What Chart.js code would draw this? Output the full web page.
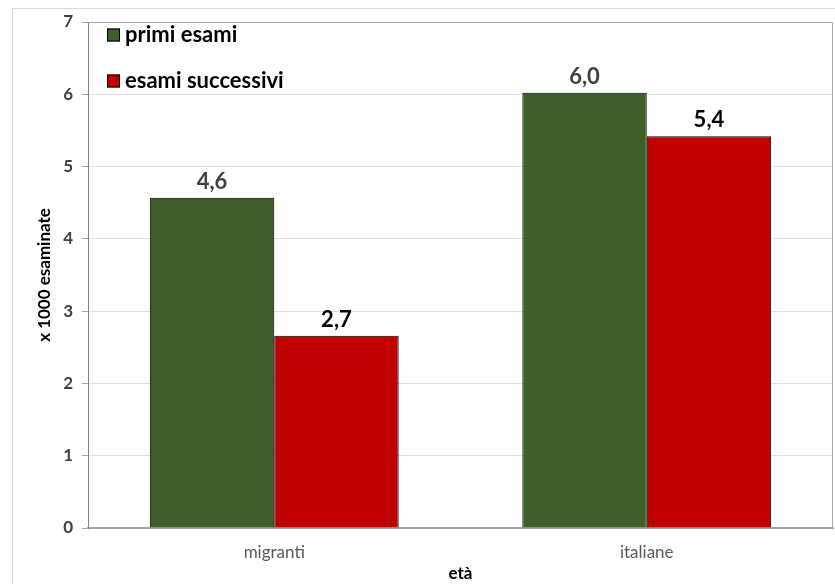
<!DOCTYPE html>
<html>
<head>
<meta charset="utf-8">
<script src="https://cdn.jsdelivr.net/npm/chart.js@4/dist/chart.umd.min.js"></script>
<style>
    html, body { margin: 0; padding: 0; background: #fff; }
    #wrap { position: relative; width: 835px; height: 584px; }
    #frame { position: absolute; left: 12px; top: 8px; width: 840px; height: 600px; border: 1px solid #d9d9d9; box-sizing: border-box; }
    canvas { position: absolute; left: 0; top: 0; }
</style>
</head>
<body>
<div id="wrap">
    <div id="frame"></div>
    <canvas id="chart" width="835" height="584"></canvas>
</div>
<script>
// data
const categories = ['migranti', 'italiane'];
const seriesNames = ['primi esami', 'esami successivi'];
const primiEsami = [4.57, 6.02];
const esamiSuccessivi = [2.66, 5.42];
const yTicks = [0, 1, 2, 3, 4, 5, 6, 7];

const FONT = 'Lato, "Open Sans", sans-serif';
const colors = ['#3f5f2a', '#c00000'];
const labelColors = ['#404040', '#000000'];

// value labels above each bar
const valueLabels = {
    id: 'valueLabels',
    afterDatasetsDraw(chart) {
        const ctx = chart.ctx;
        ctx.save();
        ctx.font = 'bold 22px ' + FONT;
        ctx.textAlign = 'center';
        ctx.textBaseline = 'bottom';
        chart.data.datasets.forEach((ds, i) => {
            const meta = chart.getDatasetMeta(i);
            ctx.fillStyle = labelColors[i];
            meta.data.forEach((bar, j) => {
                const txt = ds.data[j].toFixed(1).replace('.', ',');
                ctx.fillText(txt, bar.x, bar.y - 5);
            });
        });
        ctx.restore();
    }
};

// legend drawn inside the plot, top left
const insideLegend = {
    id: 'insideLegend',
    afterDraw(chart) {
        const ctx = chart.ctx;
        const area = chart.chartArea;
        ctx.save();
        ctx.font = 'bold 22px ' + FONT;
        ctx.textBaseline = 'middle';
        chart.data.datasets.forEach((ds, i) => {
            const y = area.top + 13 + i * 46;
            const x = area.left + 19;
            ctx.fillStyle = ds.backgroundColor;
            ctx.fillRect(x, y - 6.5, 13, 13);
            ctx.strokeStyle = '#000';
            ctx.lineWidth = 1;
            ctx.strokeRect(x + 0.5, y - 6, 12, 12);
            ctx.fillStyle = '#000';
            ctx.fillText(ds.label, x + 18, y);
        });
        ctx.restore();
    }
};

// plot area frame
const areaFrame = {
    id: 'areaFrame',
    beforeDatasetsDraw(chart) {
        const { ctx, chartArea: a } = chart;
        ctx.save();
        ctx.strokeStyle = '#a6a6a6';
        ctx.lineWidth = 1;
        ctx.beginPath();
        ctx.moveTo(a.left, a.top + 0.5);
        ctx.lineTo(a.right - 0.5, a.top + 0.5);
        ctx.lineTo(a.right - 0.5, a.bottom);
        ctx.stroke();
        ctx.restore();
    }
};

new Chart(document.getElementById('chart'), {
    type: 'bar',
    data: {
        labels: categories,
        datasets: [
            { label: seriesNames[0], data: primiEsami, backgroundColor: colors[0], borderColor: '#000', borderWidth: 1 },
            { label: seriesNames[1], data: esamiSuccessivi, backgroundColor: colors[1], borderColor: '#000', borderWidth: 1 }
        ]
    },
    options: {
        responsive: false,
        animation: false,
        layout: { padding: { top: 22, right: 2, left: 0, bottom: 0 } },
        datasets: { bar: { categoryPercentage: 0.668, barPercentage: 1 } },
        plugins: { legend: { display: false }, tooltip: { enabled: false } },
        scales: {
            x: {
                afterFit: s => { s.height = 56; },
                grid: { display: false, drawTicks: false },
                border: { color: '#a6a6a6', width: 2 },
                ticks: { color: '#595959', font: { family: FONT, size: 17 }, padding: 14 },
                title: { display: true, text: 'età', color: '#000', font: { family: FONT, size: 17, weight: 'bold' }, padding: { top: -4, bottom: 0 } }
            },
            y: {
                min: 0,
                max: 7,
                afterFit: s => { s.width = 88; },
                afterBuildTicks: s => { s.ticks = yTicks.map(v => ({ value: v })); },
                grid: { color: '#e0e0e0', tickColor: '#a6a6a6', tickLength: 6 },
                border: { color: '#808080', width: 1 },
                ticks: { color: '#404040', font: { family: FONT, size: 17, weight: 'bold' }, padding: 9 },
                title: { display: true, text: 'x 1000 esaminate', color: '#000', font: { family: FONT, size: 17, weight: 'bold' }, padding: { top: 34, bottom: 0 } }
            }
        }
    },
    plugins: [areaFrame, valueLabels, insideLegend]
});
</script>
</body>
</html>
